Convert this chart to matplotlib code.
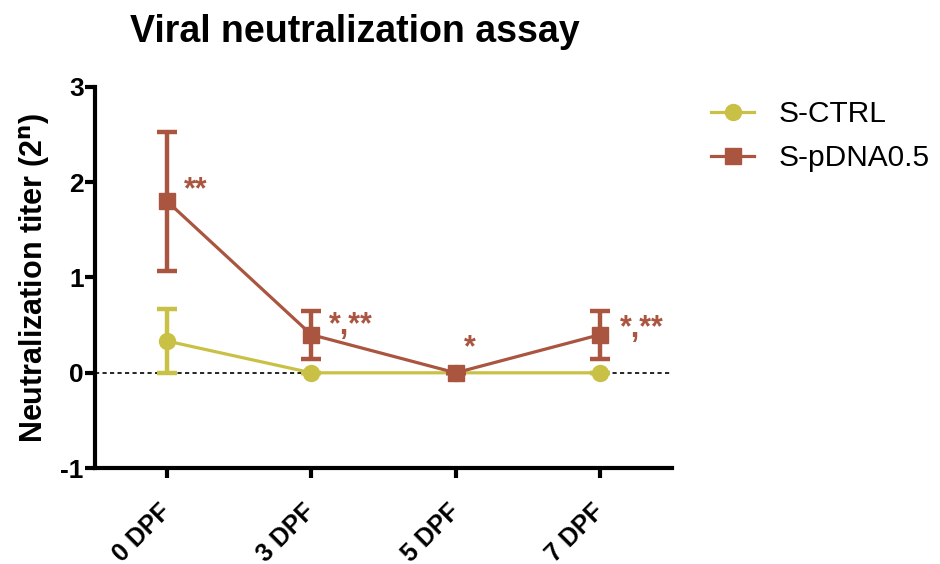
import matplotlib
matplotlib.use("Agg")
import matplotlib.pyplot as plt
from matplotlib.lines import Line2D
import numpy as np

plt.rcParams['font.family'] = ['Liberation Sans', 'DejaVu Sans']

categories = ["0 DPF", "3 DPF", "5 DPF", "7 DPF"]
ctrl_mean = [0.333, 0.0, 0.0, 0.0]
ctrl_err = [0.333, 0.0, 0.0, 0.0]
pdna_mean = [1.8, 0.4, 0.0, 0.4]
pdna_err = [0.73, 0.25, 0.0, 0.25]
annotations = ["**", "*,**", "*", "*,**"]
yticks = [-1, 0, 1, 2, 3]

ctrl_color = "#C9C145"
pdna_color = "#A9553F"

fig = plt.figure(figsize=(9.4, 5.64), dpi=100)
ax = fig.add_axes([0.101, 0.170, 0.614, 0.676])

x = np.arange(len(categories))

ax.axhline(0, color="black", lw=1.2, ls=(0, (2.5, 2)), zorder=1)

ax.errorbar(x, ctrl_mean, yerr=ctrl_err, color=ctrl_color, marker="o",
            ms=11.5, lw=2.3, elinewidth=3.2, capsize=7.5, capthick=3.2,
            zorder=3)
ax.errorbar(x, pdna_mean, yerr=pdna_err, color=pdna_color, marker="s",
            ms=11, lw=2.3, elinewidth=3.2, capsize=7.5, capthick=3.2,
            zorder=4)

# significance marks beside the S-pDNA0.5 points
ann_y = [1.92, 0.49, 0.26, 0.46]
ann_dx = [0.118, 0.125, 0.1, 0.139]
for xi, (txt, yy, dx) in enumerate(zip(annotations, ann_y, ann_dx)):
    ax.text(xi + dx, yy, txt, color=pdna_color, fontsize=22,
            fontweight="bold", ha="left" if txt != "*" else "center",
            va="center")

ax.set_xlim(-0.5, 3.5)
ax.set_ylim(-1, 3)
ax.set_yticks(yticks)
ax.set_yticklabels([str(v) for v in yticks], fontsize=19, fontweight="bold")
ax.set_xticks(x)
ax.set_xticklabels(categories, rotation=45, ha="right", va="center",
                   rotation_mode="anchor", fontsize=18, fontweight="bold")

for side in ["top", "right"]:
    ax.spines[side].set_visible(False)
for side in ["left", "bottom"]:
    ax.spines[side].set_linewidth(3)
ax.tick_params(width=3, length=7, direction="out")
ax.tick_params(axis="y", pad=1)
ax.tick_params(axis="x", pad=22)

ax.set_ylabel(r"Neutralization titer (2$^\mathbf{n}$)", fontsize=22,
              fontweight="bold", labelpad=6)

fig.text(355 / 940, 1 - 42 / 564, "Viral neutralization assay", fontsize=27,
         fontweight="bold", ha="center", va="baseline")

handles = [
    Line2D([], [], color=ctrl_color, marker="o", ms=11.5, lw=2.3),
    Line2D([], [], color=pdna_color, marker="s", ms=11, lw=2.3),
]
fig.legend(handles, ["S-CTRL", "S-pDNA0.5"], loc="upper left",
           bbox_to_anchor=(711 / 940, 1 - 100 / 564), frameon=False,
           fontsize=21.5, handlelength=1.45, handletextpad=0.8,
           labelspacing=0.55, borderpad=0, borderaxespad=0)

fig.savefig("out.png", dpi=100)
